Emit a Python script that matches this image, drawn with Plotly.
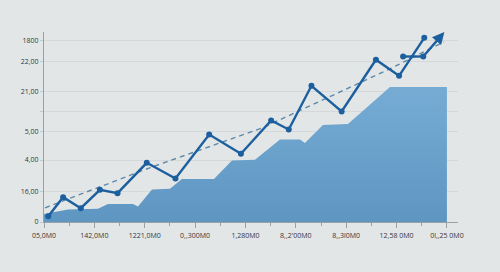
import plotly.graph_objects as go

# ---- data ----
x_tick_vals = [0, 1, 2, 3, 4, 5, 6, 7, 8]
x_tick_text = ["05,0M0", "142,0M0", "1221,0M0", "0,,300M0", "1,280M0",
               "8,,2'00M0", "8,,3l0M0", "12,58 0M0", "0l,,25 0M0"]
x_minor_vals = [0.5, 1.5, 2.5, 3.5, 4.5, 5.5, 6.5, 7.5]

y_tick_vals = [0, 30.5, 62, 90.5, 110.5, 130.5, 160.5, 181.5]
y_tick_text = ["0", "16,00", "4,00", "5,00", "", "21,00", "22,00", "1800"]

area_x = [0.0, 0.476, 1.072, 1.270, 1.767, 1.866, 2.144, 2.501, 2.739, 3.375,
          3.732, 4.189, 4.685, 5.082, 5.181, 5.539, 6.035, 6.869, 8.0]
area_y = [8, 12.5, 13.2, 18, 18, 15.5, 32.5, 33.2, 43, 43,
          61.5, 62.2, 82.5, 82.5, 79, 97, 98, 135, 135]

line_x = [0.085, 0.38, 0.73, 1.11, 1.46, 2.04, 2.61, 3.28, 3.91, 4.51,
          4.86, 5.31, 5.91, 6.59, 7.05, 7.55]
line_y = [5.8, 24.8, 13.8, 32.2, 28.8, 59.2, 43.5, 87.5, 68.2, 101.5,
          92.5, 136.2, 110.5, 162.2, 146.2, 184.2]

arrow_x = [7.13, 7.53, 7.95]
arrow_y = [165.5, 165.5, 190.0]

trend_x = [0.02, 2.10, 4.33, 6.87, 7.94]
trend_y = [14.2, 54.2, 94.0, 153.2, 180.0]

LINE_COLOR = "#1c5f9e"
BG = "#e3e6e7"
AXIS = "#9aa1a6"

fig = go.Figure()

fig.add_trace(go.Scatter(
    x=area_x, y=area_y, mode="lines", fill="tozeroy",
    line=dict(width=0, color="#6aa3cc"),
    fillgradient=dict(type="vertical",
                      colorscale=[[0, "#5e96c2"], [1, "#76acd4"]]),
    hoverinfo="skip", showlegend=False))

fig.add_trace(go.Scatter(
    x=trend_x, y=trend_y, mode="lines",
    line=dict(color="#5d89a9", width=1.4, dash="5px,4px"),
    showlegend=False))

fig.add_trace(go.Scatter(
    x=line_x, y=line_y, mode="lines+markers",
    line=dict(color=LINE_COLOR, width=2.4),
    marker=dict(color=LINE_COLOR, size=6),
    showlegend=False, cliponaxis=False))

fig.add_trace(go.Scatter(
    x=arrow_x[:2], y=arrow_y[:2], mode="lines+markers",
    line=dict(color=LINE_COLOR, width=2.4),
    marker=dict(color=LINE_COLOR, size=6),
    showlegend=False, cliponaxis=False))

fig.add_annotation(
    x=arrow_x[2], y=arrow_y[2], ax=arrow_x[1], ay=arrow_y[1],
    xref="x", yref="y", axref="x", ayref="y",
    text="", showarrow=True, arrowhead=2, arrowsize=1.0, arrowwidth=2.4,
    arrowcolor=LINE_COLOR, standoff=0, startstandoff=0)

fig.update_layout(
    width=500, height=272,
    margin=dict(l=44, r=42, t=32, b=50, pad=0),
    paper_bgcolor=BG, plot_bgcolor=BG,
    font=dict(family="Open Sans, Noto Sans, sans-serif", size=7, color="#33363a"),
    xaxis=dict(
        range=[0, 8.22], tickmode="array", tickvals=x_tick_vals, ticktext=x_tick_text,
        showgrid=False, zeroline=False, showline=True, linecolor=AXIS, linewidth=1,
        ticks="outside", ticklen=5, tickcolor=AXIS, tickwidth=1,
        tickfont=dict(size=7), ticklabelstandoff=2,
        minor=dict(tickmode="array", tickvals=x_minor_vals, ticks="outside",
                   ticklen=3, tickcolor=AXIS, showgrid=False),
    ),
    yaxis=dict(
        range=[0, 190], tickmode="array", tickvals=y_tick_vals, ticktext=y_tick_text,
        showgrid=True, gridcolor="#d4d8da", gridwidth=1, zeroline=False,
        showline=True, linecolor=AXIS, linewidth=1,
        ticks="outside", ticklen=3, tickcolor="#c4c9cc", tickwidth=1,
        tickfont=dict(size=7),
    ),
)

fig.write_html("out.html")
